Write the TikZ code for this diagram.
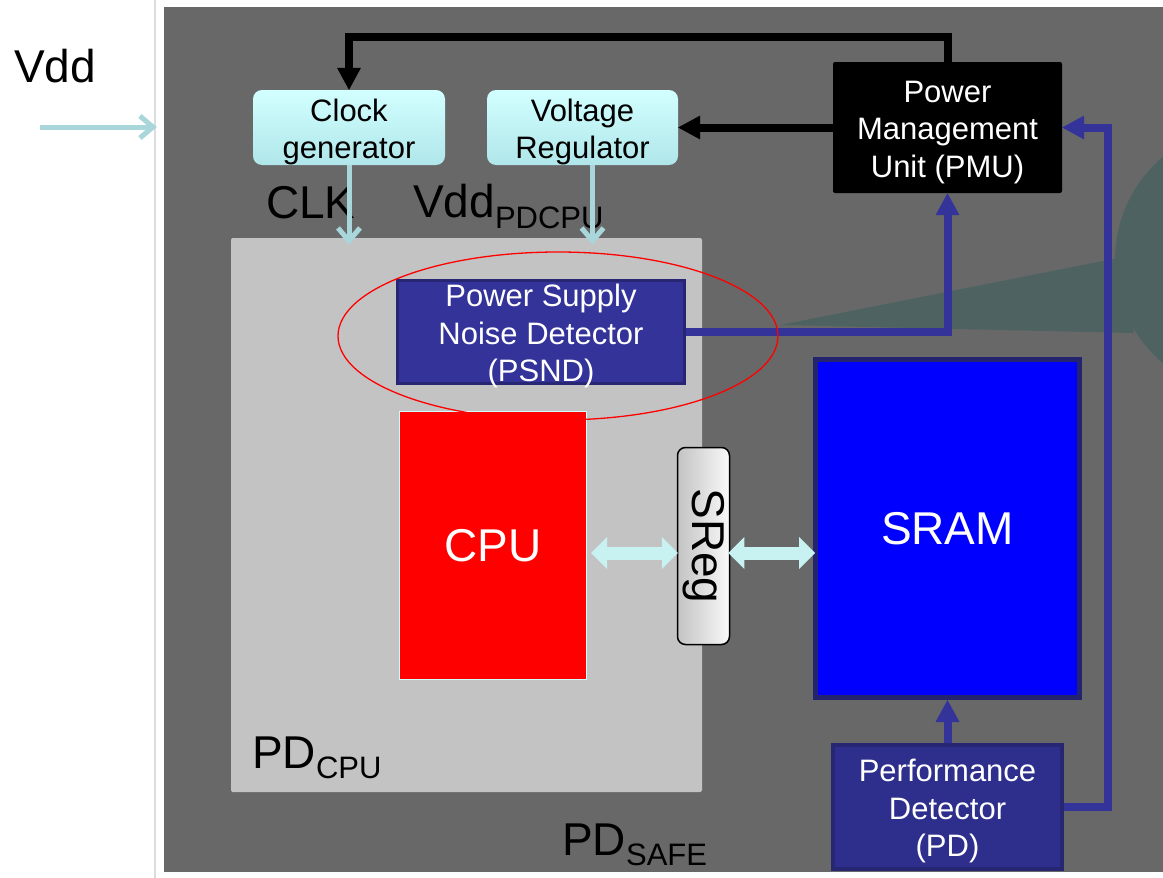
\documentclass[tikz,border=0pt]{standalone}
\usepackage{fontspec}
\setmainfont{Liberation Sans}
\usetikzlibrary{arrows.meta,calc}
\definecolor{bggray}{HTML}{686868}
\definecolor{pdgray}{HTML}{C3C3C3}
\definecolor{tealsh}{HTML}{4E6262}
\definecolor{cyantop}{HTML}{D2FFFF}
\definecolor{cyanbot}{HTML}{B0E6EA}
\definecolor{cyanline}{HTML}{A8D6DA}
\definecolor{cyandbl}{HTML}{C8F2F2}
\definecolor{navy}{HTML}{333399}
\definecolor{navyedge}{HTML}{262673}
\definecolor{pdfill}{HTML}{2E2E8C}
\definecolor{sramedge}{HTML}{24246E}
\definecolor{sepgray}{HTML}{DCDCDC}
\newcommand\bxfont{\fontsize{31}{37.5}\selectfont}
\newcommand\bigfnt{\fontsize{46}{50}\selectfont}
\newcommand\subfnt{\fontsize{31}{33}\selectfont}
\newcommand\tp{\rule{0pt}{31pt}}
\begin{document}
\begin{tikzpicture}[x=1pt,y=-1pt,
  cyanbox/.style={rounded corners=9pt, top color=cyantop, bottom color=cyanbot, inner sep=0pt, align=center, font=\bxfont, text=black},
  lbl/.style={anchor=base west, inner sep=0pt, text=black},
  blkarrow/.style={draw=black, line width=8pt, -{Triangle[width=24pt,length=22pt,line width=0pt]}},
  bluearrow/.style={draw=navy, line width=8pt, -{Triangle[width=24pt,length=22pt,line width=0pt]}},
  cyanarrow/.style={draw=cyanline, line width=5pt, -{Straight Barb[length=13pt,width=22pt]}},
  dblarrow/.style={draw=cyandbl, line width=13pt, {Triangle[width=32pt,length=16pt,line width=0pt]}-{Triangle[width=32pt,length=16pt,line width=0pt]}}
]
\useasboundingbox (0,0) rectangle (1163,878);
\fill[white] (0,0) rectangle (1163,878);
% safe power domain
\node[fill=bggray, minimum width=999pt, minimum height=865pt, inner sep=0pt] (safe) at (663.5,439.5) {};
% teal callout shape
\begin{scope}
  \clip (164,7) rectangle (1163,872);
  \fill[tealsh] (780,325) -- (1118,258) -- (1134,333) -- cycle;
  \fill[tealsh] (1250,260) circle (135pt);
\end{scope}
\draw[sepgray, line width=2pt] (155,0) -- (155,878);
% CPU power domain
\node[fill=pdgray, rounded corners=2pt, minimum width=471pt, minimum height=554pt, inner sep=0pt] (pdcpu) at (466.5,515) {};
% labels
\node[lbl] (vddlbl) at (14,82) {\bigfnt Vdd};
\node[lbl] (clklbl) at (266,218) {\bigfnt CLK};
\node[lbl] (vddpd) at (413,217) {\bigfnt Vdd\raisebox{-11pt}{\subfnt PDCPU}};
\node[lbl] (pdcpulbl) at (252,768) {\bigfnt PD\raisebox{-10pt}{\subfnt CPU}};
\node[lbl] (safelbl) at (562,855) {\bigfnt PD\raisebox{-10pt}{\subfnt SAFE}};
% blocks
\node[cyanbox, minimum width=192pt, minimum height=75pt] (clk) at (349,127.5) {\tp Clock\\generator};
\node[cyanbox, minimum width=191pt, minimum height=75pt] (vr) at (582.5,127.5) {\tp Voltage\\Regulator};
\node[fill=black, rounded corners=2pt, minimum width=229pt, minimum height=131pt, inner sep=0pt, align=center, font=\bxfont, text=white] (pmu) at (947.5,127.5) {\tp Power\\Management\\Unit (PMU)};
\node[fill=navy, draw=navyedge, line width=3pt, minimum width=287pt, minimum height=103pt, inner xsep=0pt, inner ysep=-6pt, align=center, font=\bxfont, text=white] (psnd) at (541,332) {\tp Power Supply\\Noise Detector\\(PSND)};
\node[fill=red, draw=cyantop, line width=1pt, minimum width=187pt, minimum height=268pt, inner sep=0pt, font=\bigfnt, text=white] (cpu) at (493,545.5) {CPU};
\node[rounded corners=8pt, left color=pdgray, right color=white!90!pdgray, draw=black, line width=1.5pt, minimum width=52pt, minimum height=197pt, inner sep=0pt, text=black] (sreg) at (703.5,546) {\rotatebox[origin=c]{-90}{\bigfnt SReg}};
\node[fill=blue, draw=sramedge, line width=5pt, minimum width=264pt, minimum height=338pt, inner sep=0pt, font=\bigfnt, text=white] (sram) at (947.5,528.5) {SRAM};
\node[fill=pdfill, draw=navyedge, line width=4pt, minimum width=229pt, minimum height=124pt, inner sep=0pt, align=center, font=\bxfont, text=white] (pd) at (947.5,807) {\tp Performance\\Detector\\(PD)};
% coordinates
\coordinate (topy) at (0,37);
\coordinate (rcol) at (1108,0);
\coordinate (vddin) at (40,127);
% connectors
\draw[blkarrow] (pmu.north) -- (pmu.north |- topy) -- (clk.north |- topy) -- (clk.north);
\draw[blkarrow] (pmu.west) -- (vr.east);
\draw[cyanarrow, shorten >=7pt] (vddin) -- (vddin -| safe.west);
\draw[cyanarrow, shorten >=-7pt] (clk.south) -- (clk.south |- pdcpu.north);
\draw[cyanarrow, shorten >=-7pt] ([xshift=10pt]vr.south) -- ([xshift=10pt]vr.south |- pdcpu.north);
\draw[bluearrow] (psnd.east) -| (pmu.south);
\draw[bluearrow] (pd.north) -- (sram.south);
\draw[bluearrow] (pd.east) -- (pd.east -| rcol) -- (rcol |- pmu.east) -- (pmu.east);
\draw[dblarrow] ($(cpu.east |- sreg.center)+(4,7)$) -- ($(sreg.west)+(1,7)$);
\draw[dblarrow] ($(sreg.east)+(-2,7)$) -- ($(sreg.east -| sram.west)+(2,7)$);
% highlight ellipse
\draw[red, line width=1.3pt] (558,336) ellipse [x radius=220pt, y radius=84pt];
\end{tikzpicture}
\end{document}
